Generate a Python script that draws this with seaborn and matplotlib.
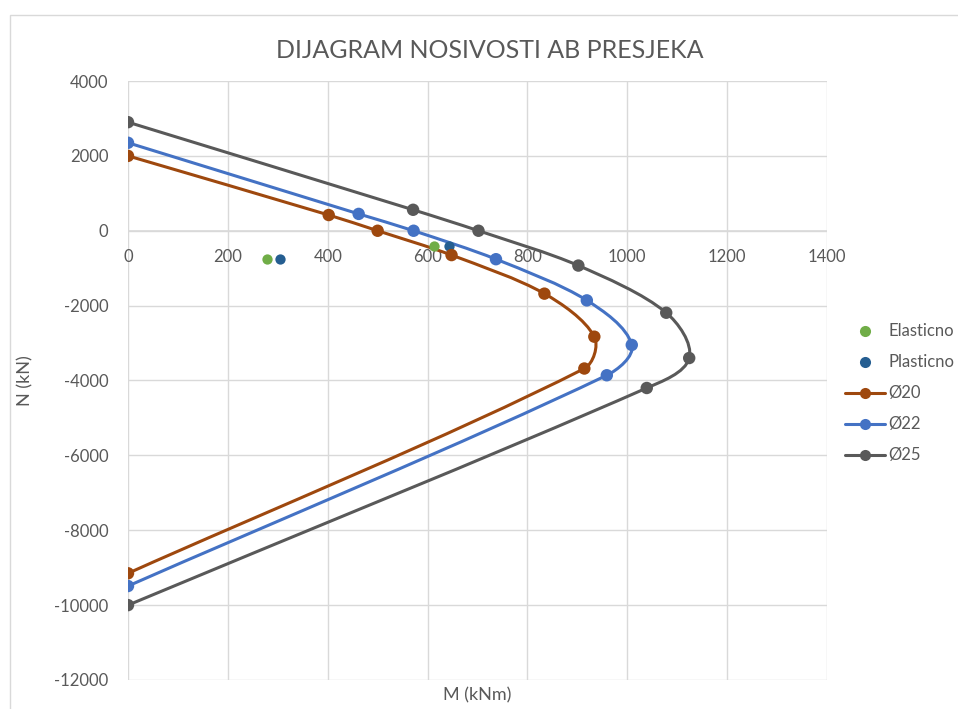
import numpy as np
import pandas as pd
import matplotlib
matplotlib.use('Agg')
import matplotlib.pyplot as plt
import seaborn as sns
from matplotlib.patches import Rectangle, PathPatch
from matplotlib.path import Path
from matplotlib.lines import Line2D

# Interaction diagram points (M in kNm, N in kN)
m_20 = [0, 402, 500, 648, 834, 934, 914, 0]
n_20 = [2000, 420, 0, -650, -1680, -2830, -3680, -9150]

m_22 = [0, 462, 572, 737, 919, 1009, 959, 0]
n_22 = [2350, 450, 0, -760, -1860, -3050, -3860, -9490]

m_25 = [0, 571, 702, 902, 1078, 1124, 1039, 0]
n_25 = [2900, 560, 0, -930, -2190, -3400, -4200, -10000]

m_elastic = [278, 612]
n_elastic = [-750, -400]
m_plastic = [304, 642]
n_plastic = [-750, -420]

series_names = ['Ø20', 'Ø22', 'Ø25']
series_colors = ['#9E480E', '#4472C4', '#595959']

rows = []
for name, mm, nn in zip(series_names, [m_20, m_22, m_25], [n_20, n_22, n_25]):
    for i, (a, b) in enumerate(zip(mm, nn)):
        rows.append({'serija': name, 'M': a, 'N': b, 'idx': i})
df = pd.DataFrame(rows)


def smooth_path(ax, xs, ys, k=0.3):
    # Excel-style smoothed line, built in screen space then mapped back to data
    p = ax.transData.transform(np.column_stack([xs, ys]).astype(float))
    n = len(p)
    tang = []
    for i in range(n):
        a = p[max(i - 1, 0)]
        b = p[min(i + 1, n - 1)]
        d = b - a
        tang.append(d / np.hypot(*d))
    verts = [p[0]]
    codes = [Path.MOVETO]
    for i in range(n - 1):
        seg = np.hypot(*(p[i + 1] - p[i]))
        verts += [p[i] + tang[i] * seg * k, p[i + 1] - tang[i + 1] * seg * k, p[i + 1]]
        codes += [Path.CURVE4] * 3
    verts = ax.transData.inverted().transform(np.array(verts))
    return Path(verts, codes)


sns.set_theme(style='white')
plt.rcParams['font.family'] = ['Lato', 'DejaVu Sans']
plt.rcParams['axes.unicode_minus'] = False

fig = plt.figure(figsize=(9.58, 7.09), dpi=100)
ax = fig.add_axes([128 / 958, 1 - 680 / 709, (827 - 128) / 958, (680 - 81) / 709])
ax.set_xlim(0, 1400)
ax.set_ylim(-12000, 4000)

# outer chart border like Excel
fig.patches.append(Rectangle((10 / 958, -0.1), 1.2, 1 - 15 / 709 + 0.1, transform=fig.transFigure,
                             fill=False, edgecolor='#D9D9D9', linewidth=1.0))

# scatter points
ax.scatter(m_elastic, n_elastic, color='#70AD47', s=55, zorder=4, linewidths=0)
ax.scatter(m_plastic, n_plastic, color='#255E91', s=55, zorder=4, linewidths=0)

# markers of the three curves
sns.scatterplot(data=df, x='M', y='N', hue='serija', palette=series_colors, s=80,
                linewidth=0, ax=ax, zorder=4, legend=False)

ax.set_xlim(0, 1400)
ax.set_ylim(-12000, 4000)

# smoothed connecting lines
for name, col in zip(series_names, series_colors):
    sub = df[df['serija'] == name].sort_values('idx')
    ax.add_patch(PathPatch(smooth_path(ax, sub['M'], sub['N']), facecolor='none',
                           edgecolor=col, linewidth=2.2, zorder=3))

ax.set_xticks(np.arange(0, 1401, 200))
ax.set_yticks(np.arange(-12000, 4001, 2000))
ax.grid(True, color='#D9D9D9', linewidth=1.0)
for s in ax.spines.values():
    s.set_visible(False)
ax.axhline(0, color='#D9D9D9', linewidth=1.2, zorder=1)
ax.axvline(0, color='#D9D9D9', linewidth=1.2, zorder=1)

ax.tick_params(axis='both', length=0, labelsize=12, colors='#595959')
ax.tick_params(axis='y', pad=14)
# x tick labels sit just under the zero line
ax.set_xticklabels([])
for v in range(0, 1401, 200):
    ax.text(v, -700, str(v), ha='center', va='center', fontsize=12, color='#595959', zorder=2)

ax.set_xlabel('M (kNm)', fontsize=13, color='#595959', labelpad=2)
ax.set_ylabel('N (kN)', fontsize=13, color='#595959')
ax.yaxis.set_label_coords(-0.135, 0.5)

fig.text(490 / 958, 1 - 50 / 709, 'DIJAGRAM NOSIVOSTI AB PRESJEKA', ha='center', va='center',
         fontsize=18, color='#595959')

handles = [
    Line2D([], [], linestyle='none', marker='o', markersize=8, markeredgewidth=0, color='#70AD47'),
    Line2D([], [], linestyle='none', marker='o', markersize=8, markeredgewidth=0, color='#255E91'),
]
for col in series_colors:
    handles.append(Line2D([], [], color=col, linewidth=2.2, marker='o', markersize=8,
                          markeredgewidth=0))
labels = ['Elasticno', 'Plasticno'] + series_names
ax.legend(handles, labels, loc='center left', bbox_to_anchor=(830 / 958, 0.445),
          bbox_transform=fig.transFigure, frameon=False, fontsize=12,
          labelcolor='#595959', handlelength=2.4, handletextpad=0.2, labelspacing=0.9)

fig.savefig('out.png', dpi=100)
